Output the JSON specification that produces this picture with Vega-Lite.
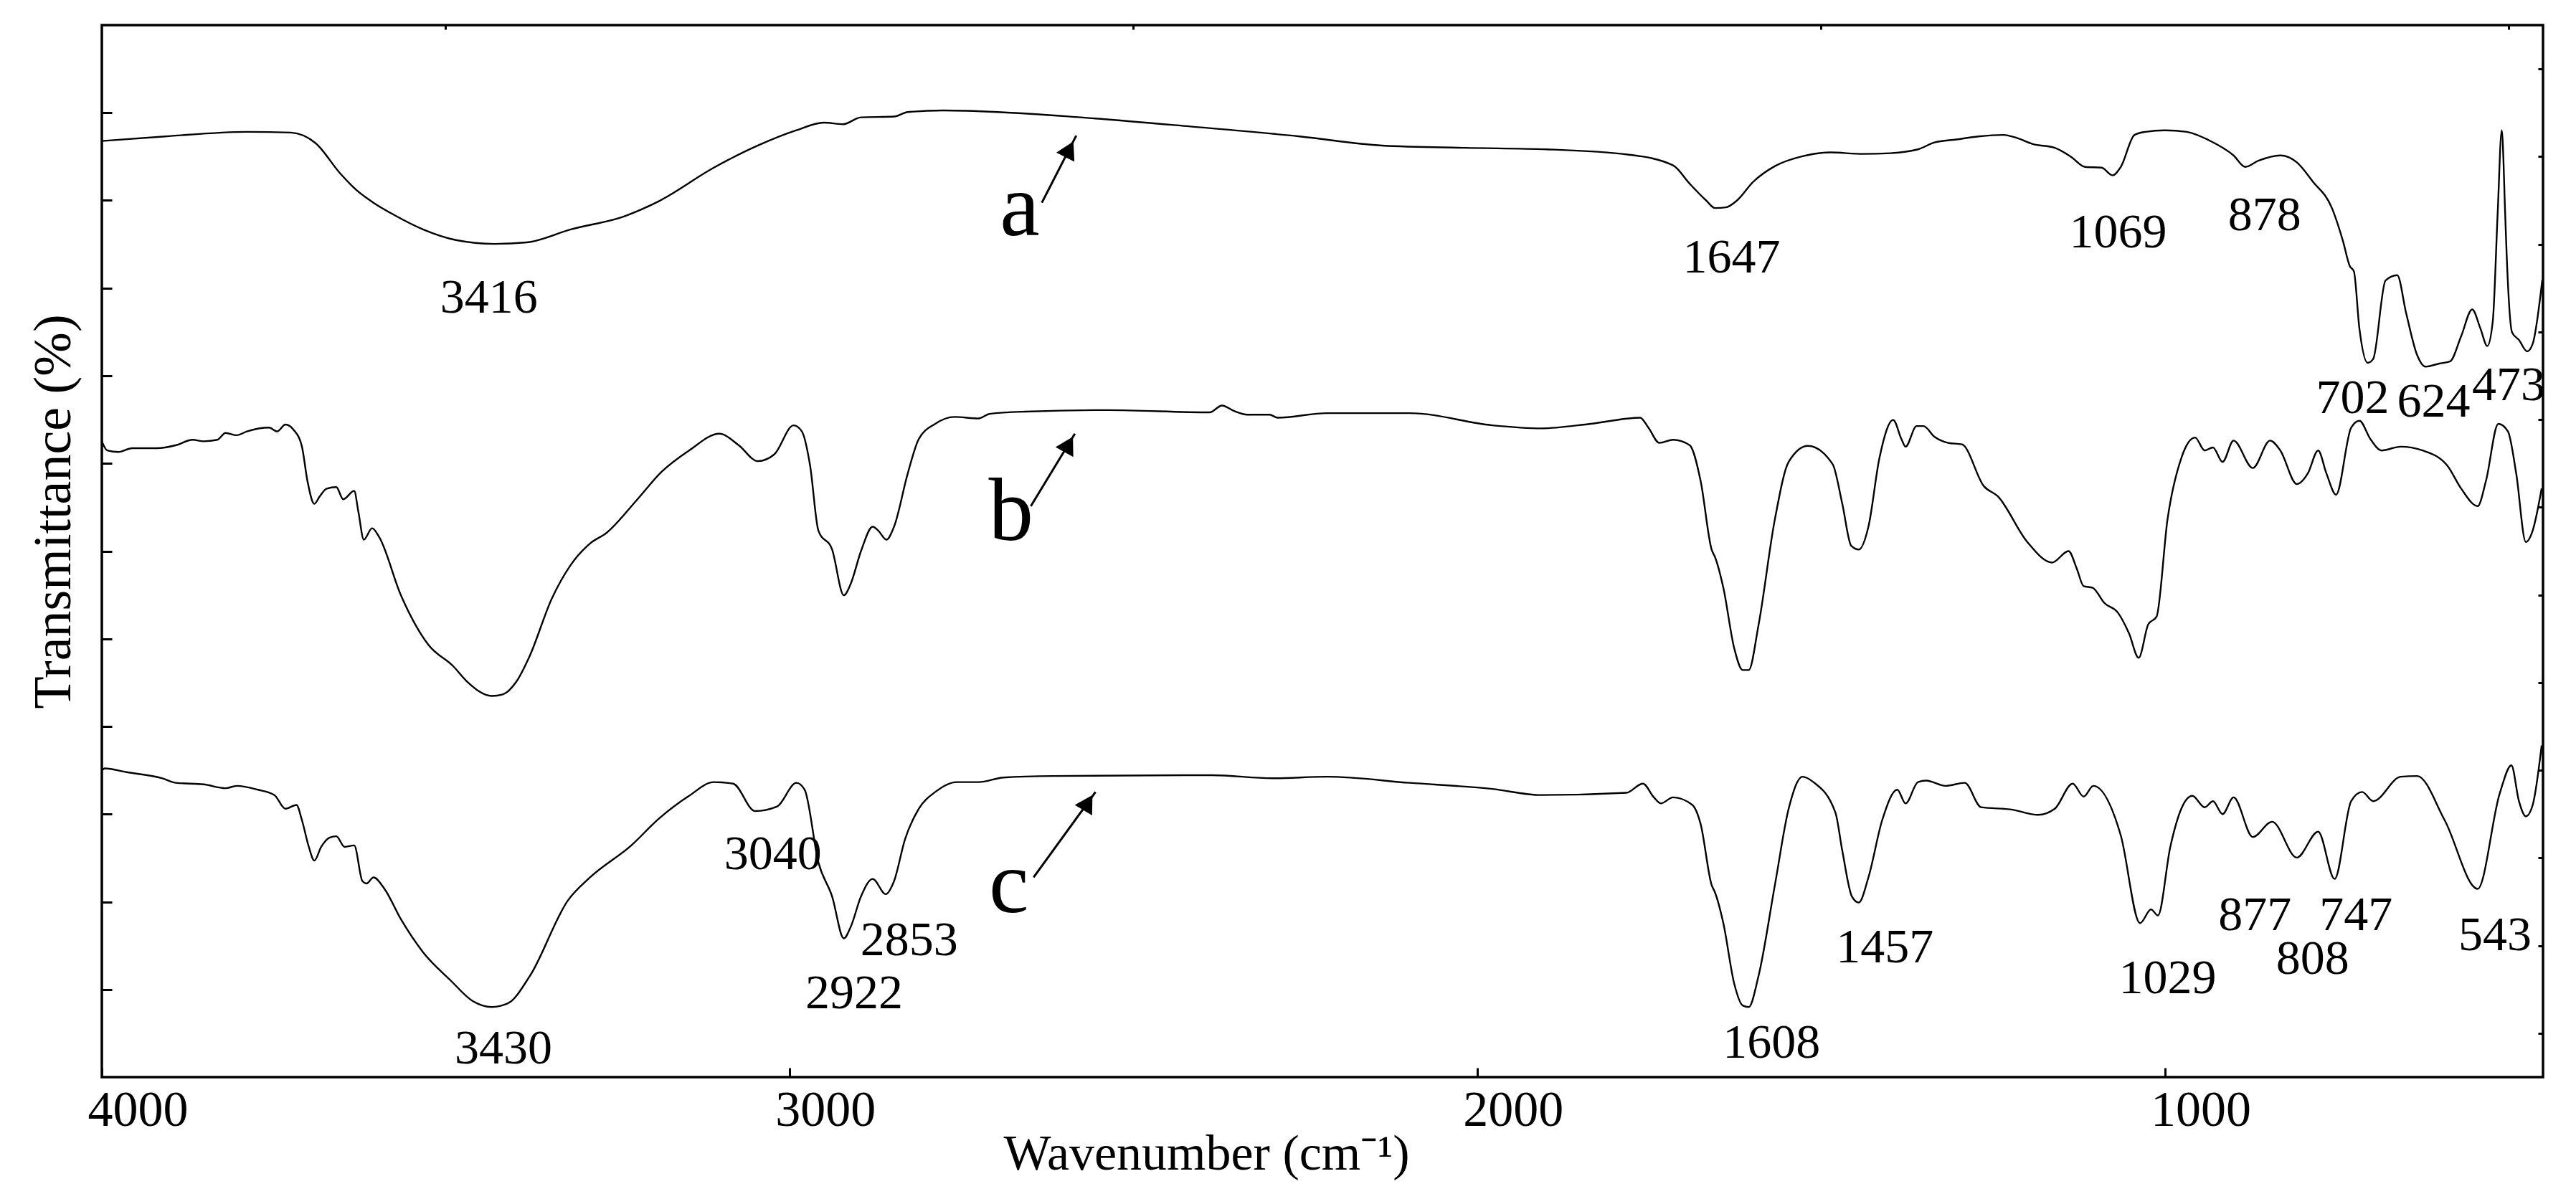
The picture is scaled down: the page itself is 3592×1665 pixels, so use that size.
{"$schema":"https://vega.github.io/schema/vega-lite/v6.json",
"autosize":{"type":"none"},
"padding":{"left":142,"top":35,"right":46,"bottom":163},
"width":3404,"height":1467,
"background":"white",
"view":{"stroke":"#000","strokeWidth":3.5,"fill":"white"},
"resolve":{"axis":{"x":"independent","y":"independent"}},
"datasets":{
"a":[[4000,1228],[3908,1234],[3789,1240],[3725,1239],[3689,1225],[3653,1185],[3629,1163],[3605,1147],[3573,1130],[3533,1112],[3485,1098],[3429,1093],[3382,1095],[3318,1112],[3238,1130],[3190,1149],[3110,1193],[3046,1222],[2990,1242],[2950,1252],[2922,1250],[2896,1259],[2848,1260],[2828,1266],[2776,1268],[2697,1266],[2577,1259],[2417,1247],[2258,1234],[2138,1222],[2018,1219],[1899,1217],[1779,1210],[1715,1196],[1691,1172],[1667,1150],[1654,1140],[1638,1141],[1622,1150],[1599,1174],[1567,1195],[1527,1208],[1487,1213],[1439,1211],[1399,1212],[1359,1217],[1335,1226],[1303,1230],[1271,1234],[1235,1236],[1215,1232],[1192,1224],[1160,1219],[1136,1207],[1116,1194],[1092,1193],[1076,1183],[1064,1194],[1044,1236],[1028,1240],[1000,1242],[968,1240],[936,1229],[900,1209],[883,1194],[864,1202],[832,1209],[808,1200],[785,1175],[757,1140],[741,1097],[731,1064],[725,1057],[717,982],[705,937],[697,942],[679,1045],[662,1052],[649,1002],[633,947],[621,932],[601,936],[585,939],[569,972],[553,1007],[541,982],[531,959],[523,992],[516,1132],[510,1242],[505,1132],[503,1082],[495,977],[485,967],[473,952],[465,962],[451,1046]],
"b":[[4000,834],[3992,822],[3976,820],[3956,825],[3920,825],[3892,829],[3868,836],[3852,834],[3832,836],[3820,845],[3804,842],[3789,847],[3757,852],[3745,847],[3733,856],[3721,849],[3709,827],[3701,782],[3691,752],[3683,762],[3673,772],[3659,774],[3649,758],[3633,769],[3627,742],[3619,705],[3607,720],[3597,709],[3565,632],[3525,567],[3489,539],[3469,519],[3433,500],[3417,502],[3397,519],[3378,552],[3346,627],[3318,672],[3290,700],[3266,714],[3222,757],[3186,794],[3146,822],[3102,844],[3074,829],[3046,808],[3022,817],[2994,855],[2982,847],[2970,802],[2958,717],[2938,692],[2921,632],[2911,647],[2896,690],[2879,722],[2871,717],[2859,705],[2848,722],[2828,792],[2812,837],[2788,857],[2760,866],[2725,864],[2709,870],[2657,873],[2537,875],[2389,872],[2371,881],[2354,874],[2334,869],[2302,869],[2290,865],[2218,871],[2098,871],[1978,855],[1907,851],[1835,857],[1763,865],[1751,852],[1735,832],[1715,836],[1691,829],[1675,782],[1659,692],[1654,682],[1642,642],[1626,562],[1614,534],[1605,534],[1591,592],[1567,732],[1547,807],[1519,828],[1483,804],[1469,752],[1456,697],[1445,692],[1431,722],[1415,812],[1395,862],[1383,837],[1377,827],[1361,854],[1351,854],[1335,840],[1315,832],[1295,830],[1263,775],[1243,762],[1200,702],[1164,675],[1140,690],[1128,667],[1118,644],[1105,642],[1088,622],[1068,609],[1052,582],[1038,550],[1024,594],[1012,604],[996,732],[976,812],[956,839],[942,822],[930,826],[916,807],[900,835],[872,799],[847,835],[832,822],[808,778],[792,792],[777,822],[765,792],[751,764],[729,852],[717,861],[701,837],[685,822],[657,827],[625,822],[589,802],[569,772],[545,749],[533,782],[515,857],[501,847],[489,792],[475,702],[465,717],[452,772]],
"c":[[4000,402],[3996,405],[3964,400],[3912,392],[3892,386],[3852,384],[3820,379],[3804,382],[3773,377],[3749,370],[3733,352],[3717,357],[3709,337],[3699,302],[3691,284],[3681,302],[3669,314],[3659,316],[3647,302],[3633,304],[3621,257],[3615,254],[3605,262],[3589,247],[3565,207],[3533,164],[3493,127],[3461,100],[3433,92],[3409,97],[3378,132],[3322,232],[3290,262],[3230,304],[3190,339],[3146,369],[3110,387],[3082,385],[3050,349],[3018,355],[2990,386],[2978,377],[2958,282],[2938,237],[2921,182],[2911,197],[2896,237],[2879,260],[2860,240],[2848,257],[2832,312],[2812,352],[2788,374],[2757,387],[2725,387],[2689,393],[2617,395],[2385,396],[2298,392],[2218,394],[2098,386],[1978,378],[1907,370],[1783,373],[1759,385],[1743,367],[1733,359],[1715,367],[1687,357],[1675,332],[1659,252],[1654,242],[1642,202],[1626,122],[1614,94],[1605,92],[1591,132],[1567,252],[1547,352],[1527,394],[1511,387],[1479,347],[1469,297],[1455,237],[1445,229],[1431,262],[1411,337],[1389,377],[1377,359],[1359,387],[1347,389],[1319,382],[1291,386],[1267,354],[1223,351],[1184,344],[1160,352],[1134,385],[1118,368],[1104,382],[1064,317],[1036,202],[1020,220],[1010,212],[992,302],[976,352],[960,369],[942,354],[930,362],[916,345],[900,367],[872,315],[844,335],[808,288],[777,322],[753,260],[729,362],[713,374],[697,362],[657,394],[633,395],[593,337],[545,247],[513,372],[496,409],[485,362],[475,342],[465,357],[452,435]],
"peaks":[{"wn":3437,"t":1022,"label":"3416"},{"wn":3416,"t":37,"label":"3430"},{"wn":3024,"t":292,"label":"3040"},{"wn":2906,"t":109,"label":"2922"},{"wn":2826,"t":179,"label":"2853"},{"wn":1630,"t":1074,"label":"1647"},{"wn":1068,"t":1107,"label":"1069"},{"wn":855,"t":1130,"label":"878"},{"wn":727,"t":890,"label":"702"},{"wn":609,"t":885,"label":"624"},{"wn":500,"t":907,"label":"473"},{"wn":1572,"t":44,"label":"1608"},{"wn":1407,"t":169,"label":"1457"},{"wn":996,"t":129,"label":"1029"},{"wn":869,"t":212,"label":"877"},{"wn":785,"t":154,"label":"808"},{"wn":722,"t":212,"label":"747"},{"wn":520,"t":185,"label":"543"}],
"arrows":[{"s":"a","wn":2665,"t":1140,"tail":2633,"tailT":1147,"tip":2583,"tipT":1235,"head":2593,"headT":1217},{"s":"b","wn":2678,"t":740,"tail":2649,"tailT":749,"tip":2585,"tipT":844,"head":2594,"headT":830},{"s":"c","wn":2681,"t":252,"tail":2645,"tailT":262,"tip":2555,"tipT":374,"head":2566,"headT":360}]
},
"layer":[
{"data":{"name":"a"},
 "transform":[{"calculate":"datum[0]","as":"wn"},{"calculate":"datum[1]","as":"t"}],
 "mark":{"type":"line","color":"#000","strokeWidth":2.4,"interpolate":"monotone"},
 "encoding":{
  "x":{"field":"wn","type":"quantitative","scale":{"domain":[4000,450],"nice":false,"zero":false},
   "axis":{"values":[4000,3000,2000,1000],"format":"d","grid":false,"domain":false,"tickColor":"#000","tickWidth":3,"tickSize":-13,"labelOffset":50,"labelPadding":25,"labelFont":"Liberation Serif","labelFontSize":70,"labelColor":"#000","labelFlush":false,"labelBound":false,"labelOverlap":false,
    "title":"Wavenumber (cm⁻¹)","titleFont":"Liberation Serif","titleFontSize":70,"titleFontWeight":"normal","titleColor":"#000","titleX":1540,"titleY":73,"titleAlign":"center","titleAnchor":null}},
  "y":{"field":"t","type":"quantitative","scale":{"domain":[0,1380],"nice":false,"zero":false},
   "axis":{"values":[115,230,345,460,575,690,805,920,1035,1150,1265],"grid":false,"domain":false,"labels":false,"tickColor":"#000","tickWidth":3,"tickSize":-14,
    "title":"Transmittance (%)","titleFont":"Liberation Serif","titleFontSize":74,"titleFontWeight":"normal","titleColor":"#000","titleX":-29,"titleY":678,"titleAlign":"center","titleAngle":-90,"titleAnchor":null}}
 }},
{"data":{"name":"b"},
 "transform":[{"calculate":"datum[0]","as":"wn"},{"calculate":"datum[1]","as":"t"}],
 "mark":{"type":"line","color":"#000","strokeWidth":2.4,"interpolate":"monotone"},
 "encoding":{"x":{"field":"wn","type":"quantitative","axis":null},"y":{"field":"t","type":"quantitative","axis":null}}},
{"data":{"name":"c"},
 "transform":[{"calculate":"datum[0]","as":"wn"},{"calculate":"datum[1]","as":"t"}],
 "mark":{"type":"line","color":"#000","strokeWidth":2.4,"interpolate":"monotone"},
 "encoding":{"x":{"field":"wn","type":"quantitative","axis":null},"y":{"field":"t","type":"quantitative","axis":null}}},
{"data":{"name":"peaks"},
 "mark":{"type":"text","font":"Liberation Serif","fontSize":68,"color":"#000","align":"center","baseline":"middle"},
 "encoding":{
  "x":{"field":"wn","type":"quantitative",
   "axis":{"values":[3500,2500,1500,500],"grid":false,"domain":false,"labels":false,"title":null,"tickColor":"#000","tickWidth":3,"tickSize":-6}},
  "y":{"field":"t","type":"quantitative",
   "axis":{"values":[57.5,172.5,287.5,402.5,517.5,632.5,747.5,862.5,977.5,1092.5,1207.5,1322.5],"grid":false,"domain":false,"labels":false,"title":null,"tickColor":"#000","tickWidth":3,"tickSize":-7}},
  "text":{"field":"label"}}},
{"data":{"name":"arrows"},
 "mark":{"type":"text","font":"Liberation Serif","fontSize":125,"color":"#000","align":"center","baseline":"middle"},
 "encoding":{"x":{"field":"wn","type":"quantitative","axis":null},"y":{"field":"t","type":"quantitative","axis":null},"text":{"field":"s"}}},
{"data":{"name":"arrows"},
 "mark":{"type":"rule","color":"#000","strokeWidth":3},
 "encoding":{"x":{"field":"tail","type":"quantitative","axis":null},"x2":{"field":"tip"},"y":{"field":"tailT","type":"quantitative","axis":null},"y2":{"field":"tipT"}}},
{"data":{"name":"arrows"},
 "mark":{"type":"point","shape":"triangle-up","filled":true,"color":"#000","opacity":1,"size":800},
 "encoding":{"x":{"field":"head","type":"quantitative","axis":null},"y":{"field":"headT","type":"quantitative","axis":null},
  "angle":{"field":"s","type":"nominal","scale":{"domain":["a","b","c"],"range":[27,31,36]},"legend":null}}}
]}
